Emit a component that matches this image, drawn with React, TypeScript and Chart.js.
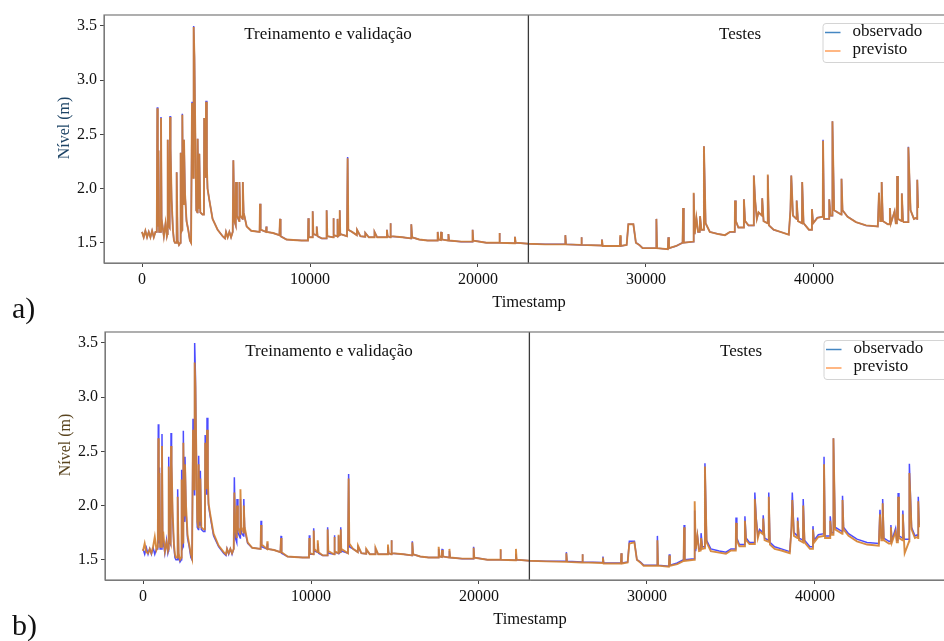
import React, { useEffect, useRef } from 'react';
import { Chart, registerables } from 'chart.js';

Chart.register(...registerables);

// ---- data, one line per stretch of the series ----
const timestamps = [
  0, 100, 200, 300, 400, 500, 600, 700, 800, 880, 910, 940, 980, 1020,
  1110, 1130, 1170, 1200, 1300, 1400, 1480, 1510, 1530, 1580, 1645, 1667, 1700, 1760, 1840, 1900, 1960,
  2045, 2063, 2120, 2200, 2280, 2300, 2340, 2385, 2400, 2440, 2485, 2500, 2560, 2650, 2750, 2850, 2920,
  2960, 2976, 3030, 3060, 3075, 3120, 3160, 3230, 3295, 3313, 3360, 3400, 3413, 3470,
  3600, 3685, 3700, 3795, 3810, 3860, 3900, 4000, 4200, 4500, 4800, 4940,
  5000, 5100, 5200, 5300, 5400, 5437, 5500, 5580, 5595, 5650, 5785, 5800, 5850, 5985, 6000, 6050, 6230,
  6500, 7000, 7024, 7060, 7380, 7400, 7420, 7800, 8180, 8214, 8250, 8600, 9000, 9500, 9880, 9900, 9930,
  10140, 10160, 10200, 10385, 10400, 10450, 10700, 10970, 10990, 11030, 11370, 11390, 11420, 11620, 11640, 11680, 11750, 11770, 11800, 12200, 12240, 12280,
  12500, 12785, 12800, 13000, 13275, 13290, 13500, 13825, 13840, 14000, 14565, 14580, 14620, 14765, 14780, 14820, 15500, 16015, 16030, 16080, 16500, 17000, 17585, 17600, 17650, 17785, 17800, 17850,
  18225, 18240, 18280, 19000, 19665, 19680, 19720, 20500, 21255, 21270, 21310, 22185, 22200, 22240, 23000, 24000,
  25185, 25200, 25240, 26135, 26150, 26190, 27365, 27380, 27420, 28450, 28470, 28500, 28850, 28950, 29250, 29400, 29600,
  29800, 30600, 30620, 30660, 31300, 31330, 31370, 31800, 32180, 32210, 32250,
  32800, 32840, 32900, 33000, 33100, 33200, 33220, 33300, 33430, 33450, 33550, 33800, 34300, 34700,
  35000, 35285, 35300, 35350, 35500, 35815, 35830, 35900, 36100, 36405, 36420, 36500, 36600, 36700, 36905, 36920, 37000, 37235, 37250, 37320, 37600,
  38000, 38500, 38600, 38650, 38750, 38955, 38970, 39050, 39285, 39300, 39380, 39700, 39865, 39880, 39950,
  40200, 40525, 40540, 40600, 40895, 40910, 40980, 41085, 41100, 41200, 41625, 41640, 41700, 42000, 42500,
  43100, 43800, 43870, 43950, 44015, 44030, 44100, 44400, 44505, 44520, 44580, 44800, 44870, 44935, 44950, 45000, 45215, 45230, 45300, 45340, 45605, 45620, 45750, 45950, 46100, 46135, 46150, 46200,
];

const observed = [
  1.60, 1.55, 1.61, 1.55, 1.60, 1.55, 1.61, 1.55, 1.60, 1.60, 2.75, 1.65, 2.35, 1.60,
  1.60, 2.66, 1.62, 1.68, 1.56, 1.68, 1.56, 1.58, 2.45, 1.66, 1.64, 2.67, 2.37, 1.90, 1.62, 1.52, 1.50,
  1.50, 2.15, 1.52, 1.48, 1.50, 2.33, 1.60, 1.62, 2.69, 1.90, 1.85, 2.45, 1.95, 1.70, 1.62, 1.52, 1.50,
  1.50, 2.80, 2.20, 2.10, 3.50, 3.21, 2.65, 1.80, 1.78, 2.46, 1.85, 1.82, 2.32, 1.78,
  1.76, 1.76, 2.65, 2.10, 2.81, 2.20, 2.00, 1.90, 1.72, 1.62, 1.56, 1.54,
  1.60, 1.55, 1.60, 1.55, 1.60, 2.26, 1.70, 1.66, 2.06, 1.75, 1.70, 2.06, 1.75, 1.72, 2.06, 1.78, 1.65,
  1.61, 1.60, 1.86, 1.62, 1.60, 1.65, 1.60, 1.59, 1.57, 1.72, 1.56, 1.53, 1.525, 1.52, 1.52, 1.725, 1.55,
  1.55, 1.79, 1.58, 1.57, 1.65, 1.56, 1.54, 1.54, 1.80, 1.56, 1.55, 1.725, 1.57, 1.56, 1.72, 1.56, 1.57, 1.80, 1.58, 1.56, 2.29, 1.62,
  1.60, 1.57, 1.62, 1.56, 1.555, 1.59, 1.55, 1.55, 1.60, 1.55, 1.55, 1.62, 1.56, 1.55, 1.68, 1.56, 1.55, 1.54, 1.67, 1.55, 1.53, 1.52, 1.52, 1.60, 1.53, 1.525, 1.60, 1.53,
  1.52, 1.58, 1.52, 1.51, 1.51, 1.62, 1.52, 1.50, 1.50, 1.59, 1.50, 1.495, 1.555, 1.50, 1.49, 1.485,
  1.485, 1.57, 1.485, 1.48, 1.55, 1.48, 1.475, 1.53, 1.47, 1.47, 1.56, 1.47, 1.48, 1.67, 1.67, 1.50, 1.48,
  1.45, 1.45, 1.72, 1.45, 1.44, 1.55, 1.45, 1.47, 1.50, 1.82, 1.50,
  1.51, 1.955, 1.58, 1.73, 1.60, 1.60, 1.745, 1.62, 1.62, 2.39, 1.68, 1.60, 1.58, 1.57,
  1.60, 1.60, 1.89, 1.70, 1.64, 1.64, 1.90, 1.70, 1.66, 1.66, 2.12, 1.89, 1.72, 1.78, 1.75, 1.91, 1.70, 1.68, 2.12, 1.66, 1.62,
  1.60, 1.575, 1.80, 2.12, 1.75, 1.72, 1.89, 1.70, 1.68, 2.06, 1.68, 1.62, 1.62, 1.81, 1.68,
  1.73, 1.74, 2.45, 1.72, 1.72, 1.90, 1.75, 1.75, 2.62, 1.80, 1.76, 2.09, 1.80, 1.74, 1.69,
  1.66, 1.65, 1.96, 1.70, 1.70, 2.06, 1.70, 1.67, 1.67, 1.82, 1.68, 1.79, 1.68, 1.68, 2.115, 1.72, 1.70, 1.955, 1.70, 1.69, 1.69, 2.385, 1.80, 1.72, 1.73, 1.72, 2.08, 1.82,
];

// panel a): forecast almost identical to the observations
const predictedA = [
  1.60, 1.55, 1.61, 1.55, 1.60, 1.55, 1.61, 1.55, 1.60, 1.60, 2.74, 1.65, 2.35, 1.60,
  1.60, 2.65, 1.62, 1.68, 1.56, 1.68, 1.56, 1.58, 2.45, 1.66, 1.64, 2.66, 2.37, 1.90, 1.62, 1.52, 1.50,
  1.50, 2.15, 1.52, 1.48, 1.50, 2.33, 1.60, 1.62, 2.68, 1.90, 1.85, 2.45, 1.95, 1.70, 1.62, 1.52, 1.50,
  1.50, 2.79, 2.20, 2.10, 3.49, 3.21, 2.65, 1.80, 1.78, 2.46, 1.85, 1.82, 2.32, 1.78,
  1.76, 1.76, 2.65, 2.10, 2.80, 2.20, 2.00, 1.90, 1.72, 1.62, 1.56, 1.54,
  1.60, 1.55, 1.60, 1.55, 1.60, 2.26, 1.70, 1.66, 2.06, 1.75, 1.70, 2.06, 1.75, 1.72, 2.06, 1.78, 1.65,
  1.61, 1.60, 1.86, 1.62, 1.60, 1.65, 1.60, 1.59, 1.57, 1.72, 1.56, 1.53, 1.525, 1.52, 1.52, 1.725, 1.55,
  1.55, 1.79, 1.58, 1.57, 1.65, 1.56, 1.54, 1.54, 1.80, 1.56, 1.55, 1.725, 1.57, 1.56, 1.72, 1.56, 1.57, 1.80, 1.58, 1.56, 2.28, 1.62,
  1.60, 1.57, 1.62, 1.56, 1.555, 1.59, 1.55, 1.55, 1.60, 1.55, 1.55, 1.62, 1.56, 1.55, 1.68, 1.56, 1.55, 1.54, 1.67, 1.55, 1.53, 1.52, 1.52, 1.60, 1.53, 1.525, 1.60, 1.53,
  1.52, 1.58, 1.52, 1.51, 1.51, 1.62, 1.52, 1.50, 1.50, 1.59, 1.50, 1.495, 1.555, 1.50, 1.49, 1.485,
  1.485, 1.57, 1.485, 1.48, 1.55, 1.48, 1.475, 1.53, 1.47, 1.47, 1.57, 1.47, 1.48, 1.67, 1.67, 1.50, 1.48,
  1.45, 1.45, 1.72, 1.45, 1.44, 1.55, 1.45, 1.47, 1.50, 1.82, 1.50,
  1.51, 1.96, 1.58, 1.73, 1.60, 1.60, 1.745, 1.62, 1.62, 2.39, 1.68, 1.60, 1.58, 1.57,
  1.60, 1.60, 1.89, 1.70, 1.64, 1.64, 1.90, 1.70, 1.66, 1.66, 2.12, 1.89, 1.72, 1.78, 1.75, 1.91, 1.70, 1.68, 2.13, 1.66, 1.62,
  1.60, 1.575, 1.80, 2.12, 1.75, 1.72, 1.89, 1.70, 1.68, 2.06, 1.68, 1.62, 1.62, 1.81, 1.68,
  1.73, 1.74, 2.44, 1.72, 1.72, 1.90, 1.75, 1.75, 2.62, 1.80, 1.76, 2.09, 1.80, 1.74, 1.69,
  1.66, 1.65, 1.96, 1.70, 1.70, 2.06, 1.70, 1.67, 1.67, 1.82, 1.68, 1.79, 1.68, 1.68, 2.115, 1.72, 1.70, 1.955, 1.70, 1.69, 1.69, 2.38, 1.80, 1.72, 1.73, 1.72, 2.08, 1.82,
];

// panel b): forecast that undershoots the peaks
const predictedB = [
  1.58, 1.65, 1.57, 1.56, 1.60, 1.56, 1.62, 1.71, 1.59, 1.62, 2.62, 1.68, 2.30, 1.62,
  1.62, 2.55, 1.66, 1.76, 1.58, 1.66, 1.58, 1.60, 2.36, 1.70, 1.66, 2.55, 2.40, 1.95, 1.65, 1.55, 1.52,
  1.52, 2.08, 1.56, 1.50, 1.52, 2.24, 1.65, 1.66, 2.58, 1.98, 1.90, 2.38, 2.00, 1.73, 1.64, 1.55, 1.51,
  1.51, 2.70, 2.25, 2.15, 3.32, 3.10, 2.62, 1.85, 1.80, 2.38, 1.90, 1.86, 2.25, 1.80,
  1.78, 1.78, 2.58, 2.15, 2.70, 2.25, 2.02, 1.92, 1.74, 1.63, 1.57, 1.55,
  1.60, 1.56, 1.60, 1.56, 1.60, 2.12, 1.78, 1.70, 2.00, 1.80, 1.74, 2.15, 1.80, 1.75, 2.00, 1.80, 1.66,
  1.61, 1.60, 1.82, 1.64, 1.60, 1.67, 1.60, 1.59, 1.57, 1.70, 1.57, 1.53, 1.525, 1.52, 1.52, 1.70, 1.56,
  1.55, 1.77, 1.60, 1.57, 1.68, 1.57, 1.54, 1.54, 1.78, 1.58, 1.55, 1.71, 1.58, 1.56, 1.73, 1.57, 1.57, 1.78, 1.60, 1.56, 2.25, 1.65,
  1.60, 1.57, 1.63, 1.56, 1.555, 1.60, 1.55, 1.55, 1.61, 1.55, 1.55, 1.64, 1.56, 1.55, 1.68, 1.56, 1.55, 1.54, 1.66, 1.55, 1.53, 1.52, 1.52, 1.62, 1.53, 1.525, 1.59, 1.53,
  1.52, 1.60, 1.52, 1.51, 1.51, 1.61, 1.52, 1.50, 1.50, 1.60, 1.50, 1.495, 1.60, 1.50, 1.49, 1.485,
  1.48, 1.56, 1.48, 1.475, 1.55, 1.475, 1.47, 1.52, 1.465, 1.465, 1.56, 1.465, 1.475, 1.65, 1.66, 1.50, 1.475,
  1.445, 1.445, 1.68, 1.445, 1.435, 1.54, 1.445, 1.46, 1.49, 1.80, 1.49,
  1.50, 2.04, 1.60, 1.72, 1.58, 1.585, 1.70, 1.60, 1.605, 2.36, 1.66, 1.58, 1.565, 1.555,
  1.585, 1.585, 1.84, 1.68, 1.625, 1.625, 1.86, 1.68, 1.645, 1.645, 2.06, 1.86, 1.70, 1.76, 1.735, 1.88, 1.68, 1.665, 2.08, 1.64, 1.60,
  1.585, 1.56, 1.78, 2.05, 1.72, 1.70, 1.86, 1.68, 1.66, 2.00, 1.66, 1.60, 1.60, 1.78, 1.66,
  1.71, 1.72, 2.38, 1.70, 1.70, 1.86, 1.73, 1.73, 2.62, 1.78, 1.74, 2.05, 1.78, 1.72, 1.67,
  1.64, 1.63, 1.92, 1.68, 1.68, 2.02, 1.68, 1.65, 1.65, 1.80, 1.66, 1.76, 1.66, 1.66, 2.08, 1.70, 1.68, 1.92, 1.68, 1.56, 1.67, 2.30, 1.78, 1.70, 1.71, 1.70, 2.04, 1.80,
];

const xTicks = [0, 10000, 20000, 30000, 40000];
const yTicks = [1.5, 2.0, 2.5, 3.0, 3.5];
const seriesLabels = ['observado', 'previsto'];
const regionLabels = ['Treinamento e validação', 'Testes'];
const regionLabelX = [11070, 35600];
const regionLabelY = 3.42;
const splitX = 23000;
const xRange = [-2263, 48336];
const yRange = [1.313, 3.601];

const FONT = "'Liberation Serif', 'Times New Roman', serif";
const OBS_COLOR = 'rgba(0,0,255,0.7)';
const PRED_COLOR = 'rgba(212,128,45,0.9)';
const LEG_OBS = '#4587c2';
const LEG_PRED = '#ff9f5a';

const decorPlugin = {
  id: 'decor',
  afterDatasetsDraw(chart: any, _args: any, opts: any) {
    const { ctx, chartArea: a, scales } = chart;
    const xs = scales.x;
    const ys = scales.y;
    ctx.save();
    // split line between training and test
    const vx = xs.getPixelForValue(splitX);
    ctx.strokeStyle = '#3a3a3a';
    ctx.lineWidth = 1.3;
    ctx.beginPath();
    ctx.moveTo(vx, a.top);
    ctx.lineTo(vx, a.bottom);
    ctx.stroke();
    // frame
    ctx.strokeStyle = '#7a7a7a';
    ctx.lineWidth = 1.2;
    ctx.strokeRect(a.left, a.top, a.right - a.left, a.bottom - a.top);
    // region labels
    ctx.fillStyle = '#111';
    ctx.font = `17px ${FONT}`;
    ctx.textAlign = 'center';
    ctx.textBaseline = 'middle';
    regionLabels.forEach((t, i) => {
      ctx.fillText(t, xs.getPixelForValue(regionLabelX[i]), ys.getPixelForValue(regionLabelY));
    });
    // legend
    const lx = a.left + 718.5;
    const ly = a.top + 8;
    ctx.fillStyle = 'rgba(255,255,255,0.85)';
    ctx.strokeStyle = '#d4d4d4';
    ctx.lineWidth = 1;
    ctx.beginPath();
    ctx.roundRect(lx + 0.5, ly + 0.5, 160, 39, 3);
    ctx.fill();
    ctx.stroke();
    const legColors = [LEG_OBS, LEG_PRED];
    const rowY = [ly + 9.5, ly + 28];
    ctx.lineWidth = 1.5;
    ctx.textAlign = 'left';
    seriesLabels.forEach((t, i) => {
      ctx.strokeStyle = legColors[i];
      ctx.beginPath();
      ctx.moveTo(lx + 2.5, rowY[i]);
      ctx.lineTo(lx + 18, rowY[i]);
      ctx.stroke();
      ctx.fillStyle = '#111';
      ctx.fillText(t, lx + 30, rowY[i] - 1);
    });
    // y title
    ctx.save();
    ctx.translate(65, 128);
    ctx.rotate(-Math.PI / 2);
    ctx.font = `16px ${FONT}`;
    ctx.textAlign = 'center';
    ctx.textBaseline = 'middle';
    ctx.fillStyle = opts.titleColor;
    ctx.fillText('Nível (m)', 0, 0);
    ctx.restore();
    ctx.restore();
  },
};

function makeConfig(pred: number[], titleColor: string): any {
  const toPts = (vals: number[]) => timestamps.map((t, i) => ({ x: t, y: vals[i] }));
  return {
    type: 'line',
    data: {
      datasets: [
        {
          label: seriesLabels[0],
          data: toPts(observed),
          borderColor: OBS_COLOR,
          borderWidth: 1.5,
          pointRadius: 0,
          tension: 0,
          order: 1,
        },
        {
          label: seriesLabels[1],
          data: toPts(pred),
          borderColor: PRED_COLOR,
          borderWidth: 1.9,
          pointRadius: 0,
          tension: 0,
          order: 0,
        },
      ],
    },
    options: {
      responsive: false,
      animation: false,
      devicePixelRatio: 1,
      layout: { padding: { left: 0, top: 15, right: 6, bottom: 0 } },
      plugins: {
        legend: { display: false },
        tooltip: { enabled: false },
        decor: { titleColor },
      },
      scales: {
        x: {
          type: 'linear',
          min: xRange[0],
          max: xRange[1],
          afterBuildTicks: (s: any) => {
            s.ticks = xTicks.map((v) => ({ value: v }));
          },
          afterFit: (s: any) => {
            s.height = 57;
          },
          ticks: {
            color: '#111',
            font: { family: FONT, size: 16 },
            padding: 3,
            maxRotation: 0,
            callback: (v: any) => String(v),
          },
          grid: { drawOnChartArea: false, drawTicks: true, tickLength: 4, color: '#444' },
          border: { display: true, color: '#7a7a7a' },
          title: {
            display: true,
            text: 'Timestamp',
            color: '#111',
            font: { family: FONT, size: 16.5 },
            padding: { top: 0, bottom: 7 },
          },
        },
        y: {
          type: 'linear',
          min: yRange[0],
          max: yRange[1],
          afterBuildTicks: (s: any) => {
            s.ticks = yTicks.map((v) => ({ value: v }));
          },
          afterFit: (s: any) => {
            s.width = 104;
          },
          ticks: {
            color: '#111',
            font: { family: FONT, size: 16 },
            padding: 3,
            callback: (v: any) => Number(v).toFixed(1),
          },
          grid: { drawOnChartArea: false, drawTicks: true, tickLength: 4, color: '#444' },
          border: { display: true, color: '#7a7a7a' },
        },
      },
    },
    plugins: [decorPlugin],
  };
}

function Panel({ pred, titleColor, left, top }: { pred: number[]; titleColor: string; left: number; top: number }) {
  const ref = useRef<HTMLCanvasElement | null>(null);
  useEffect(() => {
    if (!ref.current) return;
    const chart = new Chart(ref.current, makeConfig(pred, titleColor));
    return () => chart.destroy();
  }, [pred, titleColor]);
  return (
    <canvas
      ref={ref}
      width={960}
      height={320}
      style={{ position: 'absolute', left, top, width: 960, height: 320, display: 'block' }}
    />
  );
}

const labelStyle: React.CSSProperties = {
  position: 'absolute',
  left: 12,
  fontFamily: FONT,
  fontSize: 30,
  lineHeight: '30px',
  color: '#111',
  whiteSpace: 'nowrap',
};

export default function App() {
  return (
    <div
      style={{
        position: 'fixed',
        left: 0,
        top: 0,
        width: 944,
        height: 641,
        overflow: 'hidden',
        background: '#fff',
      }}
    >
      <Panel pred={predictedA} titleColor="#1d4466" left={0} top={0} />
      <Panel pred={predictedB} titleColor="#5a4520" left={1} top={317} />
      <span style={{ ...labelStyle, top: 293 }}>a)</span>
      <span style={{ ...labelStyle, top: 610 }}>b)</span>
    </div>
  );
}
